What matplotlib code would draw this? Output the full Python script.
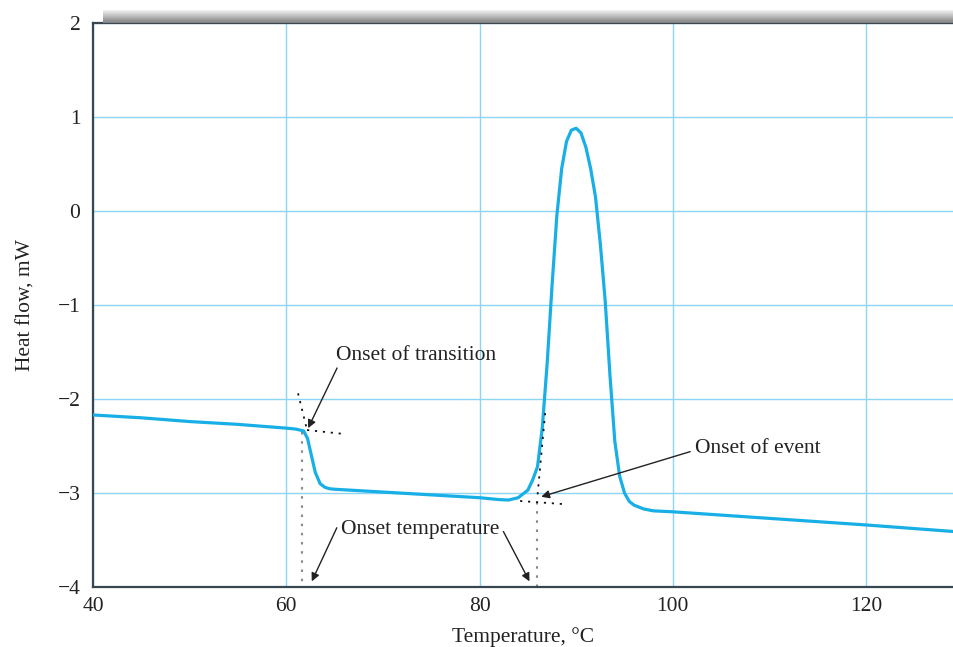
import matplotlib
matplotlib.use("Agg")
import matplotlib.pyplot as plt
import numpy as np

plt.rcParams["font.family"] = ["Liberation Serif", "DejaVu Serif"]

# DSC trace
temp = [40, 45, 50, 55, 60, 61, 61.8, 62.2, 62.6, 63.0, 63.5, 64, 64.5, 65,
        70, 75, 80, 82, 83, 84, 85, 85.5, 86, 86.5, 87, 87.5, 88, 88.5, 89, 89.5,
        90, 90.5, 91, 91.5, 92, 92.5, 93, 93.5, 94, 94.5, 95, 95.5, 96, 97,
        98, 100, 110, 120, 129.1]
heat = [-2.17, -2.20, -2.24, -2.27, -2.31, -2.32, -2.34, -2.42, -2.60, -2.78,
        -2.90, -2.94, -2.955, -2.96, -2.99, -3.02, -3.05, -3.07, -3.075, -3.05,
        -2.97, -2.86, -2.72, -2.30, -1.62, -0.80, -0.05, 0.45, 0.74, 0.86,
        0.88, 0.83, 0.68, 0.45, 0.15, -0.35, -0.95, -1.75, -2.45, -2.82,
        -3.00, -3.09, -3.13, -3.17, -3.19, -3.20, -3.27, -3.34, -3.41]

# construction lines (tangents and onset markers)
trans_steep_x = [61.22, 62.15]
trans_steep_y = [-1.94, -2.33]
trans_base_x = [62.15, 65.78]
trans_base_y = [-2.33, -2.37]
event_steep_x = [86.79, 85.96]
event_steep_y = [-2.15, -3.07]
event_base_x = [84.2, 88.55]
event_base_y = [-3.085, -3.117]
onset_temps = [61.64, 85.96]
onset_tops = [-2.35, -3.10]

CURVE = "#18afe6"
GRID = "#8ad6f4"
SPINE = "#37464f"
TEXT = "#222222"
FS = 15.5

fig = plt.figure(figsize=(9.54, 6.47), dpi=100)
ax = fig.add_axes([93 / 954, 1 - 587 / 647, (954 - 93) / 954, (587 - 23) / 647])

ax.plot(temp, heat, color=CURVE, linewidth=2.3, zorder=3, solid_capstyle="round")

dots = (0, (1.2, 3.2))
ax.plot(trans_steep_x, trans_steep_y, color="#111111", linestyle=dots, linewidth=1.3, zorder=4)
ax.plot(trans_base_x, trans_base_y, color="#111111", linestyle=dots, linewidth=1.3, zorder=4)
ax.plot(event_steep_x, event_steep_y, color="#111111", linestyle=dots, linewidth=1.3, zorder=4)
ax.plot(event_base_x, event_base_y, color="#111111", linestyle=dots, linewidth=1.3, zorder=4)
for x0, y0 in zip(onset_temps, onset_tops):
    ax.plot([x0, x0], [y0, -4], color="#8a8a8a", linestyle=dots, linewidth=1.5, zorder=2)

arrow = dict(arrowstyle="-|>", color=TEXT, lw=1.0, mutation_scale=12, shrinkA=0, shrinkB=0)
ax.annotate("", xy=(62.26, -2.31), xytext=(65.26, -1.67), arrowprops=arrow, zorder=5)
ax.annotate("", xy=(86.38, -3.04), xytext=(101.8, -2.56), arrowprops=arrow, zorder=5)
ax.annotate("", xy=(62.64, -3.94), xytext=(65.23, -3.37), arrowprops=arrow, zorder=5)
ax.annotate("", xy=(85.17, -3.94), xytext=(82.47, -3.41), arrowprops=arrow, zorder=5)

ax.text(65.15, -1.54, "Onset of transition", fontsize=FS, color=TEXT, ha="left", va="center")
ax.text(102.3, -2.53, "Onset of event", fontsize=FS, color=TEXT, ha="left", va="center")
ax.text(73.85, -3.39, "Onset temperature", fontsize=FS, color=TEXT, ha="center", va="center")

ax.set_xlim(40, 129.1)
ax.set_ylim(-4, 2)
ax.set_xticks([40, 60, 80, 100, 120])
ax.set_yticks([-4, -3, -2, -1, 0, 1, 2])
ax.grid(True, color=GRID, linewidth=1.0)
ax.set_axisbelow(True)
ax.tick_params(length=0, labelsize=FS, labelcolor=TEXT)
ax.tick_params(axis="y", pad=9)
ax.tick_params(axis="x", pad=7)

for side in ("left", "bottom", "top"):
    ax.spines[side].set_color(SPINE)
    ax.spines[side].set_linewidth(1.6)
ax.spines["right"].set_visible(False)

ax.set_xlabel("Temperature, °C", fontsize=FS, color=TEXT, labelpad=8)
ax.set_ylabel("Heat flow, mW", fontsize=FS, color=TEXT, labelpad=16)

# shaded bar along the top edge
bar = fig.add_axes([103 / 954, 1 - 23 / 647, (954 - 103) / 954, 13 / 647])
shade = np.linspace(0.95, 0.5, 40).reshape(-1, 1)
bar.imshow(shade, cmap="gray", vmin=0, vmax=1, aspect="auto", extent=(0, 1, 0, 1))
bar.set_axis_off()

fig.savefig("out.png", dpi=100, facecolor="white")
plt.close(fig)
